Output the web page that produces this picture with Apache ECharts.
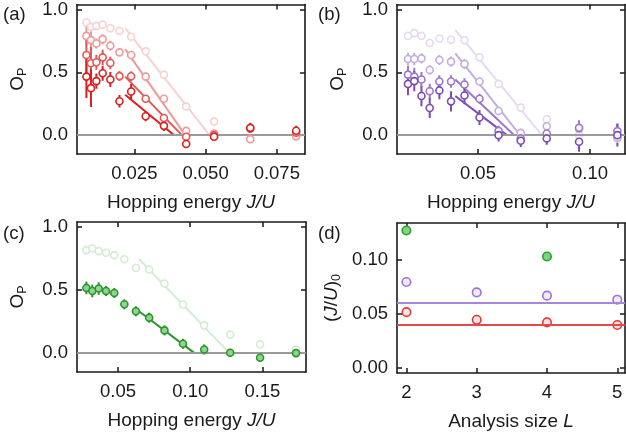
<!DOCTYPE html>
<html>
<head>
<meta charset="utf-8">
<script src="https://cdn.jsdelivr.net/npm/echarts@6/dist/echarts.min.js"></script>
<style>
html,body{margin:0;padding:0;background:#fff;}
#c{width:626px;height:441px;}
</style>
</head>
<body>
<div id="c"></div>
<script>
// ---------- Panel (a): red, L = 2..5 ----------
const xA = [0.0082, 0.0098, 0.0117, 0.0139, 0.0166, 0.0198, 0.0239, 0.0290, 0.0354, 0.0432, 0.0530, 0.0657, 0.0818];
const aL2 = [0.896, 0.862, 0.870, 0.880, 0.851, 0.830, 0.783, 0.667, 0.482, 0.229, 0.108, -0.030, -0.013];
const aL3 = [0.790, 0.756, 0.730, 0.764, 0.711, 0.659, 0.638, 0.466, 0.290, 0.034, 0.013, -0.032, -0.008];
const aL4 = [0.638, 0.572, 0.580, 0.619, 0.574, 0.470, 0.469, 0.290, 0.137, -0.013, 0.000, 0.052, 0.020];
const aL5 = [0.466, 0.374, 0.430, 0.493, 0.443, 0.270, 0.348, 0.150, 0.074, -0.071, -0.013, 0.058, 0.035];
const aL2err = [0.03, 0.03, 0.02, 0.02, 0.02, 0.02, 0.02, 0.02, 0.02, 0.02, 0.02, 0.02, 0.02];
const aL3err = [0.08, 0.07, 0.04, 0.04, 0.04, 0.03, 0.03, 0.03, 0.02, 0.02, 0.02, 0.02, 0.02];
const aL4err = [0.16, 0.13, 0.06, 0.06, 0.05, 0.04, 0.04, 0.03, 0.03, 0.03, 0.02, 0.03, 0.03];
const aL5err = [0.17, 0.15, 0.06, 0.06, 0.06, 0.05, 0.06, 0.04, 0.04, 0.03, 0.03, 0.04, 0.04];
const fitAL2 = [[0.0218, 0.851], [0.0514, 0]];
const fitAL3 = [[0.0218, 0.685], [0.0429, 0]];
const fitAL4 = [[0.0218, 0.466], [0.0417, 0]];
const fitAL5 = [[0.0218, 0.321], [0.0390, 0]];

// ---------- Panel (b): purple, L = 2..5 ----------
const xB = [0.0188, 0.0216, 0.0248, 0.0285, 0.0328, 0.0380, 0.0440, 0.0507, 0.0592, 0.0691, 0.0807, 0.0951, 0.1122];
const bL2 = [0.790, 0.812, 0.790, 0.733, 0.769, 0.759, 0.756, 0.619, 0.408, 0.219, 0.126, 0.000, -0.026];
const bL3 = [0.606, 0.606, 0.611, 0.519, 0.598, 0.585, 0.567, 0.427, 0.192, 0.018, 0.071, 0.050, -0.020];
const bL4 = [0.482, 0.466, 0.443, 0.350, 0.427, 0.427, 0.403, 0.290, 0.034, -0.026, 0.013, 0.058, 0.032];
const bL5 = [0.408, 0.430, 0.311, 0.216, 0.356, 0.269, 0.316, 0.140, 0.000, -0.045, -0.026, -0.053, 0.000];
const bL2err = [0.02, 0.02, 0.02, 0.02, 0.02, 0.02, 0.02, 0.02, 0.02, 0.02, 0.02, 0.02, 0.02];
const bL3err = [0.05, 0.05, 0.04, 0.04, 0.04, 0.04, 0.04, 0.03, 0.03, 0.03, 0.03, 0.03, 0.03];
const bL4err = [0.07, 0.07, 0.06, 0.06, 0.05, 0.05, 0.05, 0.04, 0.04, 0.04, 0.04, 0.06, 0.06];
const bL5err = [0.09, 0.08, 0.08, 0.08, 0.07, 0.08, 0.07, 0.06, 0.05, 0.05, 0.05, 0.08, 0.09];
const fitBL2 = [[0.0399, 0.838], [0.0785, 0]];
const fitBL3 = [[0.0399, 0.651], [0.0688, 0]];
const fitBL4 = [[0.0399, 0.443], [0.0662, 0]];
const fitBL5 = [[0.0399, 0.311], [0.0629, 0]];

// ---------- Panel (c): green, L = 2 and 4 ----------
const xC = [0.0281, 0.0322, 0.0366, 0.0417, 0.0474, 0.0544, 0.0624, 0.0716, 0.0822, 0.0950, 0.1097, 0.1277, 0.1484, 0.1733];
const cL2 = [0.817, 0.830, 0.809, 0.796, 0.777, 0.745, 0.676, 0.663, 0.552, 0.385, 0.220, 0.146, 0.069, 0.029];
const cL4 = [0.517, 0.493, 0.512, 0.493, 0.477, 0.387, 0.332, 0.281, 0.180, 0.074, 0.029, 0.003, -0.037, 0.000];
const cL2err = [0.01, 0.01, 0.01, 0.01, 0.01, 0.01, 0.01, 0.01, 0.01, 0.01, 0.01, 0.01, 0.01, 0.01];
const cL4err = [0.05, 0.05, 0.05, 0.04, 0.04, 0.04, 0.04, 0.04, 0.04, 0.04, 0.04, 0.03, 0.03, 0.03];
const fitCL2 = [[0.0647, 0.745], [0.1272, 0]];
const fitCL4 = [[0.0643, 0.334], [0.1030, 0]];

// ---------- Panel (d): critical point vs analysis size ----------
const sizesL = [2, 3, 4, 5];
const dRed = [0.0516, 0.0445, 0.0421, 0.0397];
const dPurple = [0.0794, 0.0698, 0.0668, 0.0631];
const dGreen = [0.127, null, 0.103, null];
const dRedLimit = 0.0382;
const dPurpleLimit = 0.0603;

// ---------- tick labels ----------
const ticksXA = [0.025, 0.050, 0.075];
const ticksXB = [0.05, 0.10];
const ticksXC = [0.05, 0.10, 0.15];
const ticksXD = [2, 3, 4, 5];
const ticksYABC = [0, 0.5, 1.0];
const ticksYD = [0, 0.05, 0.10];

// ---------- styling ----------
const FONT = '"Liberation Sans", Arial, Helvetica, sans-serif';
const RED = ['#f8d2d2', '#ef9a9a', '#e55656', '#dc1e1e'];
const PUR = ['#e5dbf1', '#c4aee0', '#9d78ca', '#7d4bb9'];
const GRN_LIGHT = '#d3ecd3';
const GRN_DARK = '#2c962c';
const GRN_FILL = '#8fd48f';

const grids = [
  {left: 77, top: 4, width: 228, height: 150},
  {left: 397, top: 4, width: 228, height: 150},
  {left: 77, top: 222, width: 229, height: 150},
  {left: 397, top: 223, width: 228, height: 150}
];
const xRanges = [[0.0049, 0.0849], [0.0139, 0.1156], [0.0216, 0.1802], [1.866, 5.11]];
const yRanges = [[-0.15, 1.04], [-0.15, 1.04], [-0.15, 1.04], [-0.0046, 0.1339]];
const xTicks = [ticksXA, ticksXB, ticksXC, ticksXD];
const yTicks = [ticksYABC, ticksYABC, ticksYABC, ticksYD];
const xFmt = [v => v.toFixed(3), v => v.toFixed(2), v => v.toFixed(2), v => String(Math.round(v))];
const yFmt = [v => v.toFixed(1), v => v.toFixed(1), v => v.toFixed(1), v => v.toFixed(2)];

const axisLineStyle = {show: true, onZero: false, lineStyle: {color: '#1a1a1a', width: 1.6}};
const tickStyle = (vals) => ({show: true, inside: true, length: 5, customValues: vals, lineStyle: {color: '#1a1a1a', width: 1.5}});

const xNameText = [
  'Hopping energy {i|J/U}', 'Hopping energy {i|J/U}', 'Hopping energy {i|J/U}', 'Analysis size {i|L}'
];
const yNameText = ['{o|O}{s|P}', '{o|O}{s|P}', '{o|O}{s|P}', '({i|J}/{i|U}){s|0}'];
const richName = {
  i: {fontStyle: 'italic', fontSize: 19, fontFamily: FONT, color: '#1a1a1a'},
  o: {fontSize: 19, fontFamily: FONT, color: '#1a1a1a'},
  s: {fontSize: 12.5, fontFamily: FONT, color: '#1a1a1a', padding: [9, 0, 0, 0]}
};

const xAxes = [], yAxes = [];
for (let g = 0; g < 4; g++) {
  xAxes.push({
    type: 'value', gridIndex: g, position: 'bottom', min: xRanges[g][0], max: xRanges[g][1],
    axisLine: axisLineStyle, axisTick: tickStyle(xTicks[g]), splitLine: {show: false},
    axisLabel: {customValues: xTicks[g], formatter: xFmt[g], fontSize: 18.5, fontFamily: FONT, color: '#1a1a1a', margin: 10},
    name: xNameText[g], nameLocation: 'middle', nameGap: 39,
    nameTextStyle: {fontSize: 19, fontFamily: FONT, color: '#1a1a1a', rich: richName}
  });
  yAxes.push({
    type: 'value', gridIndex: g, position: 'left', min: yRanges[g][0], max: yRanges[g][1],
    axisLine: axisLineStyle, axisTick: tickStyle(yTicks[g]), splitLine: {show: false},
    axisLabel: {customValues: yTicks[g], formatter: yFmt[g], fontSize: 18.5, fontFamily: FONT, color: '#1a1a1a', margin: 9},
    name: yNameText[g], nameLocation: 'middle', nameRotate: 90, nameGap: g === 3 ? 54 : 48,
    nameTextStyle: {fontSize: 19, fontFamily: FONT, color: '#1a1a1a', rich: richName}
  });
}
for (let g = 0; g < 4; g++) {
  xAxes.push({
    type: 'value', gridIndex: g, position: 'top', min: xRanges[g][0], max: xRanges[g][1],
    axisLine: axisLineStyle, axisTick: tickStyle(xTicks[g]), splitLine: {show: false},
    axisLabel: {show: false}
  });
  yAxes.push({
    type: 'value', gridIndex: g, position: 'right', min: yRanges[g][0], max: yRanges[g][1],
    axisLine: axisLineStyle, axisTick: tickStyle(yTicks[g]), splitLine: {show: false},
    axisLabel: {show: false}
  });
}

const series = [];
function zeroLine(g, y, color, width) {
  series.push({
    type: 'line', xAxisIndex: g, yAxisIndex: g, data: [], z: 1, silent: true,
    markLine: {silent: true, symbol: 'none', animation: false, label: {show: false},
      lineStyle: {color: color, width: width, type: 'solid'}, data: [{yAxis: y}]}
  });
}
function fitLine(g, pts, color) {
  series.push({
    type: 'line', xAxisIndex: g, yAxisIndex: g, data: pts, showSymbol: false, symbol: 'none',
    lineStyle: {color: color, width: 2}, z: 2, silent: true, animation: false
  });
}
function errBars(g, xs, ys, es, color) {
  const data = [];
  xs.forEach((x, i) => { if (ys[i] != null) data.push([x, ys[i] - es[i], ys[i] + es[i]]); });
  series.push({
    type: 'custom', xAxisIndex: g, yAxisIndex: g, z: 3, silent: true, animation: false,
    encode: {x: 0, y: [1, 2]}, data: data, clip: true,
    renderItem: function (params, api) {
      const p1 = api.coord([api.value(0), api.value(1)]);
      const p2 = api.coord([api.value(0), api.value(2)]);
      return {type: 'line', shape: {x1: p1[0], y1: p1[1], x2: p2[0], y2: p2[1]},
        style: {stroke: color, lineWidth: 2}};
    }
  });
}
function points(g, xs, ys, edge, fill, size, z) {
  const data = [];
  xs.forEach((x, i) => { if (ys[i] != null) data.push([x, ys[i]]); });
  series.push({
    type: 'scatter', xAxisIndex: g, yAxisIndex: g, data: data, symbol: 'circle', symbolSize: size,
    itemStyle: {color: fill, borderColor: edge, borderWidth: 1.6, opacity: 1}, z: z, silent: true, animation: false
  });
}

// zero lines
zeroLine(0, 0, '#9a9a9a', 2);
zeroLine(1, 0, '#9a9a9a', 2);
zeroLine(2, 0, '#9a9a9a', 2);

// panel a
const aSets = [[aL2, aL2err, fitAL2], [aL3, aL3err, fitAL3], [aL4, aL4err, fitAL4], [aL5, aL5err, fitAL5]];
aSets.forEach((s, k) => {
  fitLine(0, s[2], RED[k]);
  errBars(0, xA, s[0], s[1], RED[k]);
  points(0, xA, s[0], RED[k], '#ffffff', 7, 4 + k);
});
// panel b
const bSets = [[bL2, bL2err, fitBL2], [bL3, bL3err, fitBL3], [bL4, bL4err, fitBL4], [bL5, bL5err, fitBL5]];
bSets.forEach((s, k) => {
  fitLine(1, s[2], PUR[k]);
  errBars(1, xB, s[0], s[1], PUR[k]);
  points(1, xB, s[0], PUR[k], '#ffffff', 7, 4 + k);
});
// panel c
fitLine(2, fitCL2, GRN_LIGHT);
errBars(2, xC, cL2, cL2err, GRN_LIGHT);
points(2, xC, cL2, GRN_LIGHT, '#ffffff', 7, 4);
fitLine(2, fitCL4, GRN_DARK);
errBars(2, xC, cL4, cL4err, GRN_DARK);
points(2, xC, cL4, GRN_DARK, GRN_FILL, 7, 5);
// panel d
zeroLine(3, dPurpleLimit, '#a886d8', 2);
zeroLine(3, dRedLimit, '#e34a4a', 2);
points(3, sizesL, dRed, '#e53935', '#fde3e3', 8.5, 4);
points(3, sizesL, dPurple, '#9c74d4', '#f1eafa', 8.5, 4);
points(3, sizesL, dGreen, '#2e9e2e', '#7fd37f', 8.5, 4);

const panelLabels = [['(a)', 3, 14], ['(b)', 318, 14], ['(c)', 3, 233], ['(d)', 318, 233]];
const graphic = panelLabels.map(p => ({
  type: 'text', left: p[1], top: p[2] - 9, silent: true,
  style: {text: p[0], fontSize: 18.5, fontFamily: FONT, fill: '#1a1a1a'}
}));

const chart = echarts.init(document.getElementById('c'), null, {renderer: 'canvas'});
chart.setOption({
  animation: false,
  backgroundColor: '#ffffff',
  grid: grids,
  xAxis: xAxes,
  yAxis: yAxes,
  series: series,
  graphic: graphic
});
</script>
</body>
</html>
